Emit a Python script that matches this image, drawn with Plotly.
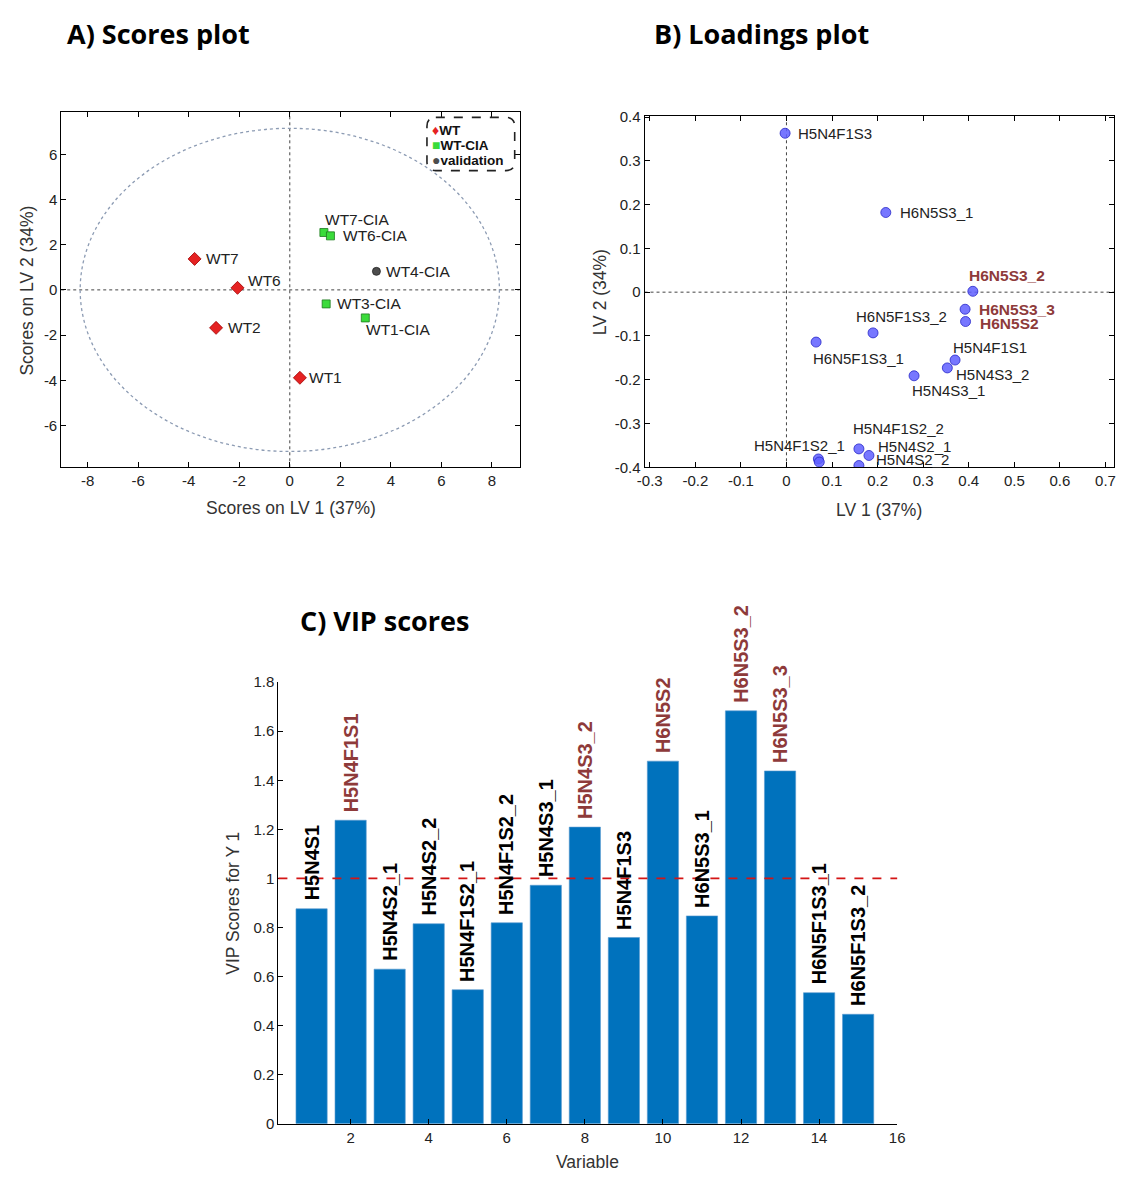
import plotly.graph_objects as go

# ---------------- DATA ----------------
# A) Scores plot
wt_names = ["WT7", "WT6", "WT2", "WT1"]
wt_lv1 = [-3.77, -2.07, -2.92, 0.40]
wt_lv2 = [1.37, 0.09, -1.68, -3.89]

cia_names = ["WT7-CIA", "WT6-CIA", "WT3-CIA", "WT1-CIA"]
cia_lv1 = [1.35, 1.61, 1.44, 2.99]
cia_lv2 = [2.54, 2.39, -0.62, -1.24]

val_names = ["WT4-CIA"]
val_lv1 = [3.43]
val_lv2 = [0.82]

ellipse_rx = 8.3
ellipse_ry = 7.15

scores_xticks = [-8, -6, -4, -2, 0, 2, 4, 6, 8]
scores_xticklabels = ["-8", "-6", "-4", "-2", "0", "2", "4", "6", "8"]
scores_yticks = [-6, -4, -2, 0, 2, 4, 6]
scores_yticklabels = ["-6", "-4", "-2", "0", "2", "4", "6"]

# B) Loadings plot
load_names = ["H5N4F1S3", "H6N5S3_1", "H6N5S3_2", "H6N5S3_3", "H6N5S2",
              "H6N5F1S3_2", "H6N5F1S3_1", "H5N4F1S1", "H5N4S3_2", "H5N4S3_1",
              "H5N4F1S2_2", "H5N4S2_1", "H5N4S2_2", "H5N4F1S2_1", "H5N4S1"]
load_lv1 = [-0.003, 0.218, 0.409, 0.392, 0.393,
            0.190, 0.065, 0.370, 0.353, 0.280,
            0.159, 0.181, 0.159, 0.070, 0.072]
load_lv2 = [0.363, 0.182, 0.002, -0.039, -0.067,
            -0.093, -0.114, -0.155, -0.173, -0.191,
            -0.358, -0.373, -0.396, -0.381, -0.388]
load_xticks = [-0.3, -0.2, -0.1, 0, 0.1, 0.2, 0.3, 0.4, 0.5, 0.6, 0.7]
load_xticklabels = ["-0.3", "-0.2", "-0.1", "0", "0.1", "0.2", "0.3", "0.4", "0.5", "0.6", "0.7"]
load_yticks = [-0.4, -0.3, -0.2, -0.1, 0, 0.1, 0.2, 0.3, 0.4]
load_yticklabels = ["-0.4", "-0.3", "-0.2", "-0.1", "0", "0.1", "0.2", "0.3", "0.4"]
load_highlighted = ["H6N5S3_2", "H6N5S3_3", "H6N5S2"]

# C) VIP scores
vip_variable = list(range(1, 16))
vip_names = ["H5N4S1", "H5N4F1S1", "H5N4S2_1", "H5N4S2_2", "H5N4F1S2_1",
             "H5N4F1S2_2", "H5N4S3_1", "H5N4S3_2", "H5N4F1S3", "H6N5S2",
             "H6N5S3_1", "H6N5S3_2", "H6N5S3_3", "H6N5F1S3_1", "H6N5F1S3_2"]
vip_values = [0.876, 1.237, 0.630, 0.815, 0.546,
              0.819, 0.972, 1.209, 0.759, 1.478,
              0.847, 1.683, 1.438, 0.534, 0.446]
vip_threshold = 1.0
vip_xticks = [2, 4, 6, 8, 10, 12, 14, 16]
vip_yticks = [0, 0.2, 0.4, 0.6, 0.8, 1.0, 1.2, 1.4, 1.6, 1.8]
vip_yticklabels = ["0", "0.2", "0.4", "0.6", "0.8", "1", "1.2", "1.4", "1.6", "1.8"]

# ---------------- STYLE ----------------
W, H = 1125, 1178
FONT = "Liberation Sans, Arial, sans-serif"
TITLE_FONT = "Open Sans, sans-serif"
DARKRED = "#8E3A3A"
TXT = "#222222"


def px(x):
    return x / W


def py(y):
    return 1 - y / H


# label offsets (pixels) for text next to points: (xanchor, xshift, yshift)
score_label_pos = {
    "WT7": ("left", 9, 0), "WT6": ("left", 8, 7), "WT2": ("left", 10, 0),
    "WT1": ("left", 7, 0), "WT7-CIA": ("left", -1, 13), "WT6-CIA": ("left", 11, 0),
    "WT4-CIA": ("left", 8, 0), "WT3-CIA": ("left", 9, 0), "WT1-CIA": ("left", -1, -12),
}
load_label_pos = {
    "H5N4F1S3": ("left", 11, 0), "H6N5S3_1": ("left", 12, 0),
    "H6N5S3_2": ("left", -6, 16), "H6N5S3_3": ("left", 12, 0),
    "H6N5S2": ("left", 12, -2), "H6N5F1S3_2": ("center", 28, 16),
    "H6N5F1S3_1": ("center", 42, -16), "H5N4F1S1": ("left", -4, 13),
    "H5N4S3_2": ("left", 7, -7), "H5N4S3_1": ("left", -4, -15),
    "H5N4F1S2_2": ("left", -8, 20), "H5N4S2_1": ("left", 7, 9),
    "H5N4S2_2": ("left", 15, 6), "H5N4F1S2_1": ("center", -19, 13),
}

fig = go.Figure()

# ---- A traces
fig.add_trace(go.Scatter(x=wt_lv1, y=wt_lv2, mode="markers", name="WT",
                         marker=dict(symbol="diamond", size=10, color="#E52222",
                                     line=dict(color="#A00000", width=0.8)),
                         xaxis="x", yaxis="y", showlegend=False))
fig.add_trace(go.Scatter(x=cia_lv1, y=cia_lv2, mode="markers", name="WT-CIA",
                         marker=dict(symbol="square", size=8, color="#3ADB3A",
                                     line=dict(color="#1E7A1E", width=0.8)),
                         xaxis="x", yaxis="y", showlegend=False))
fig.add_trace(go.Scatter(x=val_lv1, y=val_lv2, mode="markers", name="validation",
                         marker=dict(symbol="circle", size=8, color="#4D4D4D",
                                     line=dict(color="#222222", width=0.8)),
                         xaxis="x", yaxis="y", showlegend=False))

# ---- B trace
fig.add_trace(go.Scatter(x=load_lv1, y=load_lv2, mode="markers", name="loadings",
                         marker=dict(symbol="circle", size=10, color="rgba(95,95,255,0.85)",
                                     line=dict(color="#2727C8", width=0.8)),
                         xaxis="x2", yaxis="y2", showlegend=False))

# ---- C trace
fig.add_trace(go.Bar(x=vip_variable, y=vip_values, width=0.8, name="VIP",
                     marker=dict(color="#0072BD", line=dict(color="#5A9BD0", width=0.6)),
                     xaxis="x3", yaxis="y3", showlegend=False))

annotations = []
shapes = []

# A labels
for names, xs, ys in [(wt_names, wt_lv1, wt_lv2), (cia_names, cia_lv1, cia_lv2),
                      (val_names, val_lv1, val_lv2)]:
    for n, x, y in zip(names, xs, ys):
        anc, xs_, ys_ = score_label_pos[n]
        annotations.append(dict(x=x, y=y, xref="x", yref="y", text=n, showarrow=False,
                                xanchor=anc, yanchor="middle", xshift=xs_, yshift=ys_,
                                font=dict(family=FONT, size=15.5, color=TXT)))

# B labels
for n, x, y in zip(load_names, load_lv1, load_lv2):
    if n not in load_label_pos:
        continue
    anc, xs_, ys_ = load_label_pos[n]
    hl = n in load_highlighted
    annotations.append(dict(x=x, y=y, xref="x2", yref="y2",
                            text=f"<b>{n}</b>" if hl else n, showarrow=False,
                            xanchor=anc, yanchor="middle", xshift=xs_, yshift=ys_,
                            font=dict(family=FONT, size=15.5 if hl else 15,
                                      color=DARKRED if hl else TXT)))

# C labels
vip_highlight = [v > vip_threshold for v in vip_values]
for x, v, n, hl in zip(vip_variable, vip_values, vip_names, vip_highlight):
    annotations.append(dict(x=x, y=v, xref="x3", yref="y3", text=f"<b>{n}</b>",
                            showarrow=False, textangle=-90, xanchor="center",
                            yanchor="bottom", yshift=6,
                            font=dict(family=FONT, size=20, color=DARKRED if hl else "#000000")))

# Panel titles
for txt, x, y in [("A) Scores plot", 58, 25), ("B) Loadings plot", 653, 25), ("C) VIP scores", 294, 620)]:
    annotations.append(dict(x=px(x), y=py(y), xref="paper", yref="paper", text=f"<b>{txt}</b>",
                            showarrow=False, xanchor="left", yanchor="middle",
                            font=dict(family=TITLE_FONT, size=27, color="#000000")))

# Axis titles
axis_titles = [
    ("Scores on LV 1 (37%)", 287, 506, 0), ("Scores on LV 2 (34%)", 19, 286, -90),
    ("LV 1 (37%)", 884, 508, 0), ("LV 2 (34%)", 600, 287, -90),
    ("Variable", 588, 1170, 0), ("VIP Scores for Y 1", 228, 907, -90),
]
for txt, x, y, ang in axis_titles:
    annotations.append(dict(x=px(x), y=py(y), xref="paper", yref="paper", text=txt,
                            showarrow=False, xanchor="center", yanchor="middle", textangle=ang,
                            font=dict(family=FONT, size=17.5, color="#333333")))

# Manual legend for A
legend_items = [("♦", "#E52222", "WT", 123), ("■", "#3ADB3A", "WT-CIA", 138),
                ("●", "#4D4D4D", "validation", 153)]
for g, c, t, y in legend_items:
    annotations.append(dict(x=px(428), y=py(y), xref="paper", yref="paper",
                            text=f"<span style='color:{c};font-size:14px'>{g}</span><b>{t}</b>",
                            showarrow=False, xanchor="left", yanchor="middle",
                            font=dict(family=FONT, size=13.5, color="#111111")))


def rounded_rect(x0, y0, x1, y1, r):
    X = lambda v: px(v)
    Y = lambda v: py(v)
    return (f"M {X(x0 + r)},{Y(y0)} L {X(x1 - r)},{Y(y0)} Q {X(x1)},{Y(y0)} {X(x1)},{Y(y0 + r)} "
            f"L {X(x1)},{Y(y1 - r)} Q {X(x1)},{Y(y1)} {X(x1 - r)},{Y(y1)} "
            f"L {X(x0 + r)},{Y(y1)} Q {X(x0)},{Y(y1)} {X(x0)},{Y(y1 - r)} "
            f"L {X(x0)},{Y(y0 + r)} Q {X(x0)},{Y(y0)} {X(x0 + r)},{Y(y0)} Z")


shapes.append(dict(type="path", xref="paper", yref="paper", path=rounded_rect(425, 110, 514, 164, 9),
                   line=dict(color="#222222", width=1.6, dash="dash"), fillcolor="rgba(255,255,255,0.9)"))

# ellipse (confidence limit)
shapes.append(dict(type="circle", xref="x", yref="y", x0=-ellipse_rx, x1=ellipse_rx,
                   y0=-ellipse_ry, y1=ellipse_ry, layer="below",
                   line=dict(color="#8C9BB3", width=1.3, dash="dot")))
# zero lines A and B
for xr, yr in [("x", "y"), ("x2", "y2")]:
    shapes.append(dict(type="line", xref=xr, yref=f"{yr} domain", x0=0, x1=0, y0=0, y1=1,
                       layer="below", line=dict(color="#444444", width=1, dash="dot")))
    shapes.append(dict(type="line", xref=f"{xr} domain", yref=yr, x0=0, x1=1, y0=0, y1=0,
                       layer="below", line=dict(color="#444444", width=1, dash="dot")))
# VIP threshold
shapes.append(dict(type="line", xref="x3 domain", yref="y3", x0=0, x1=1, y0=vip_threshold,
                   y1=vip_threshold, line=dict(color="#D41515", width=1.6, dash="dash")))

box_axis = dict(showline=True, linecolor="#000000", linewidth=1, mirror="ticks", ticks="inside",
                ticklen=5, tickcolor="#000000", showgrid=False, zeroline=False,
                tickfont=dict(family=FONT, size=15, color=TXT))

fig.update_layout(
    width=W, height=H, margin=dict(l=0, r=0, t=0, b=0),
    paper_bgcolor="white", plot_bgcolor="white", showlegend=False,
    xaxis=dict(domain=[px(54), px(519)], range=[-9.05, 9.1], tickvals=scores_xticks,
               ticktext=scores_xticklabels, anchor="y", **box_axis),
    yaxis=dict(domain=[py(465), py(105)], range=[-7.85, 7.85], tickvals=scores_yticks,
               ticktext=scores_yticklabels, anchor="x", **box_axis),
    xaxis2=dict(domain=[px(645.7), px(1122.3)], range=[-0.3115, 0.7195], tickvals=load_xticks,
                ticktext=load_xticklabels, anchor="y2", **box_axis),
    yaxis2=dict(domain=[py(465), py(108.3)], range=[-0.4, 0.403], tickvals=load_yticks,
                ticktext=load_yticklabels, anchor="x2", **box_axis),
    xaxis3=dict(domain=[px(274.3), px(902)], range=[0.15, 16.0], tickvals=vip_xticks,
                anchor="y3", showline=True, linecolor="#000000", linewidth=1, ticks="inside",
                ticklen=5, tickcolor="#000000", showgrid=False, zeroline=False,
                tickfont=dict(family=FONT, size=15, color=TXT)),
    yaxis3=dict(domain=[py(1131), py(683)], range=[0, 1.8], tickvals=vip_yticks,
                ticktext=vip_yticklabels, anchor="x3", showline=True, linecolor="#000000",
                linewidth=1, ticks="inside", ticklen=5, tickcolor="#000000", showgrid=False,
                zeroline=False, tickfont=dict(family=FONT, size=15, color=TXT)),
    annotations=annotations, shapes=shapes,
)

fig.write_html("out.html", config={"displayModeBar": False},
               post_script="document.body.style.margin='0';document.body.style.overflow='hidden';")
